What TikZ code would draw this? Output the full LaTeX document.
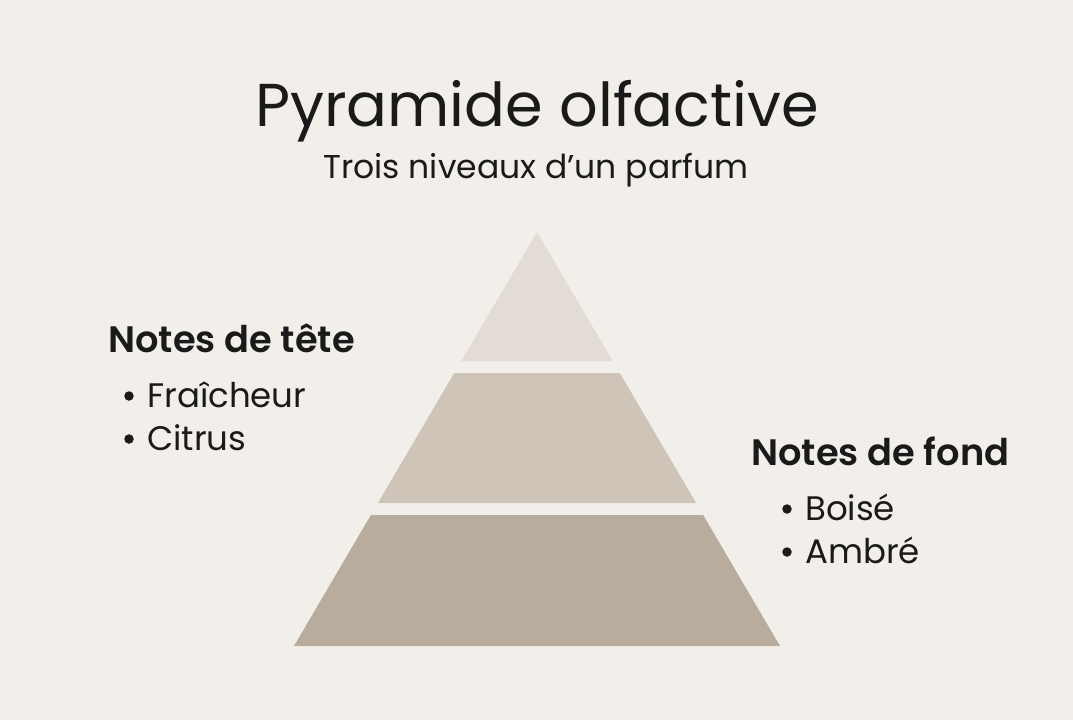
\documentclass[tikz,border=0pt]{standalone}
\usepackage{fontspec}
\setmainfont{Poppins}[BoldFont={Poppins SemiBold}]
\definecolor{bg}{HTML}{F2EFEA}
\definecolor{tierA}{HTML}{E3DCD4}
\definecolor{tierB}{HTML}{CEC4B8}
\definecolor{tierC}{HTML}{B8AC9D}
\definecolor{ink}{HTML}{1A1A1A}
\begin{document}
\begin{tikzpicture}[x=1pt,y=-1pt,
  txt/.style={inner sep=0pt,text=ink,anchor=base west},
  head/.style={txt,font=\fontsize{36.8}{40}\selectfont\bfseries},
  item/.style={txt,font=\fontsize{34}{38}\selectfont},
  dot/.style={circle,fill=ink,inner sep=0pt,minimum size=9.5pt}]
\fill[bg] (0,0) rectangle (1073,720);
\useasboundingbox (0,0) rectangle (1073,720);
% pyramid
\coordinate (apex) at (537,232);
\fill[tierA] (apex) -- (612.7,361) -- (461.3,361) -- cycle;
\fill[tierB] (454.2,373) -- (619.8,373) -- (696.1,503) -- (377.9,503) -- cycle;
\fill[tierC] (370.9,515) -- (703.1,515) -- (780,646) -- (294,646) -- cycle;
% titles
\node[inner sep=0pt,text=ink,anchor=base,font=\fontsize{60.5}{66}\selectfont] (title) at (537,126) {Pyramide olfactive};
\node[inner sep=0pt,text=ink,anchor=base,font=\fontsize{33}{38}\selectfont] (sub) at (536,178) {Trois niveaux d’un parfum};
% left
\node[head] (tete) at (108,352) {Notes de tête};
\node[dot] (d1) at (129,396) {};
\node[item] (f) at (147,407) {Fraîcheur};
\node[dot] (d2) at (129,439) {};
\node[item] (c) at (147,450) {Citrus};
% right
\node[head] (fond) at (751,465) {Notes de fond};
\node[dot] (d3) at (787,509) {};
\node[item] (b) at (805,520) {Boisé};
\node[dot] (d4) at (787,552) {};
\node[item] (a) at (805,563) {Ambré};
\end{tikzpicture}
\end{document}
